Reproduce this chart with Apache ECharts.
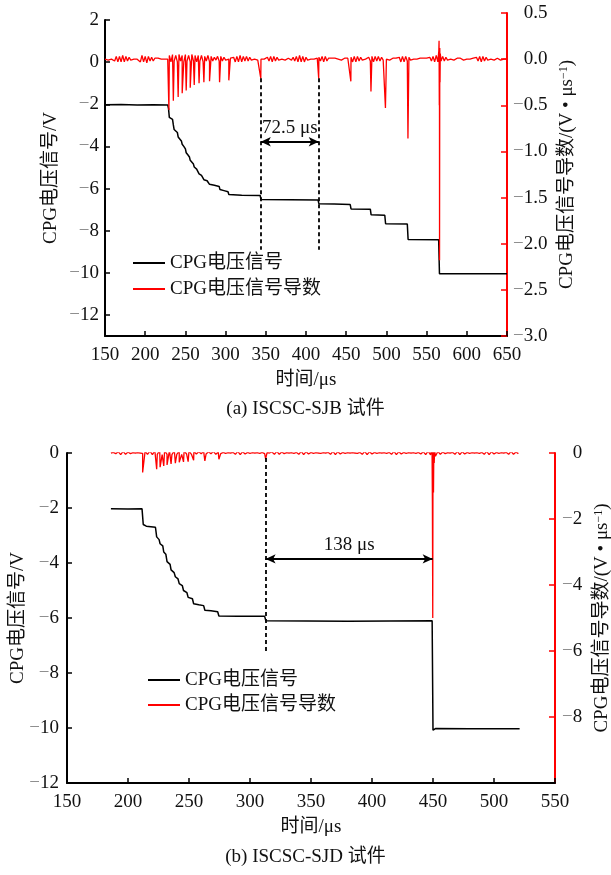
<!DOCTYPE html>
<html><head><meta charset="utf-8">
<script src="https://cdn.jsdelivr.net/npm/echarts@6/dist/echarts.min.js"></script>
<style>html,body{margin:0;padding:0;background:#fff;}#c{width:611px;height:875px;}</style>
</head><body><div id="c"></div>
<script>
// ---------------- DATA ----------------
// Panel (a) ISCSC-SJB : CPG voltage (V), [time µs, value]
const voltA = [
[150,-2.02],[170,-2.01],[190,-2.03],[210,-2.02],[228,-2.03],
[229,-2.2],[230,-2.62],[232,-2.66],[234,-2.72],[235,-2.98],[236,-3.2],[238,-3.26],[240,-3.34],[241,-3.55],[243,-3.62],[245,-3.74],[246,-3.9],[248,-4.0],[250,-4.12],[251,-4.3],[253,-4.4],[255,-4.5],[256,-4.66],[258,-4.75],[260,-4.84],[261,-4.98],[264,-5.08],[266,-5.15],[267,-5.3],[270,-5.38],[272,-5.45],[273,-5.58],[277,-5.63],[279,-5.68],[280,-5.8],[286,-5.84],[292,-5.9],[293,-6.05],[298,-6.1],[303,-6.15],[304,-6.28],[320,-6.32],[343,-6.33],
[344,-6.52],[380,-6.53],[415,-6.55],
[416,-6.72],[435,-6.73],[455,-6.76],
[456,-6.97],[480,-6.98],
[481,-7.25],[498,-7.27],
[499,-7.67],[526,-7.68],
[527,-8.42],[565,-8.43],
[566,-10.05],[600,-10.04],[650,-10.05]
];
// Panel (a) derivative baseline wiggle, sampled every 2 µs from 150 µs (V/µs)
const derivStartA = 150, derivStepA = 2;
const derivNoiseA = [
0.00,0.01,-0.01,0.01,0.00,0.02,-0.02,0.03,-0.03,0.03,
-0.03,0.04,-0.03,0.03,-0.02,0.02,-0.01,0.01,0.00,0.01,
0.00,0.02,-0.03,0.04,-0.03,0.03,-0.04,0.03,-0.02,0.02,
-0.02,0.01,0.00,0.01,-0.01,0.00,0.01,0.00,0.01,0.00,
0.04,-0.03,0.05,-0.02,0.04,-0.03,0.05,-0.02,0.04,-0.03,
0.05,-0.02,0.04,-0.03,0.05,-0.02,0.04,-0.03,0.04,-0.02,
0.04,-0.03,0.03,-0.02,0.04,-0.03,0.03,-0.02,0.02,-0.01,
0.03,-0.02,0.03,-0.02,0.02,-0.01,0.01,0.00,0.01,-0.01,
0.02,-0.03,0.03,-0.03,0.04,-0.03,0.03,-0.02,0.03,-0.02,
0.02,-0.01,0.01,0.00,0.01,-0.01,0.01,0.00,0.01,0.00,
0.01,0.02,-0.02,0.03,-0.03,0.03,-0.02,0.02,-0.01,0.01,
0.00,0.01,-0.01,0.00,0.01,0.00,-0.01,0.02,-0.02,0.03,
-0.03,0.04,-0.03,0.03,-0.03,0.02,-0.01,0.01,0.00,0.01,
0.00,-0.01,0.01,0.02,-0.02,0.03,-0.03,0.03,-0.02,0.01,
-0.01,0.01,0.00,0.01,-0.01,0.00,0.01,-0.01,0.00,0.01,
0.00,0.01,-0.01,0.02,-0.03,0.03,-0.03,0.03,-0.02,0.02,
-0.01,0.01,0.00,0.01,0.02,-0.02,0.03,-0.03,0.03,-0.02,
0.03,-0.02,0.02,-0.01,0.01,0.00,0.01,-0.01,0.00,0.01,
0.00,0.01,-0.01,0.02,-0.03,0.03,-0.03,0.03,-0.02,0.02,
-0.01,0.01,0.00,0.01,0.00,-0.01,0.01,0.00,0.01,0.00,
0.01,-0.01,0.02,-0.02,0.03,-0.03,0.04,-0.03,0.03,-0.02,
0.03,-0.02,0.02,-0.01,0.01,0.00,0.01,-0.01,0.00,0.01,
0.00,0.01,0.00,-0.01,0.01,0.00,0.01,0.00,-0.01,0.01,
0.00,0.02,-0.02,0.03,-0.03,0.03,-0.02,0.02,-0.01,0.01,
0.00,0.01,-0.01,0.00,0.01,0.00,-0.01,0.01,0.00,0.01,
0.00
];
const spikeTimeA = [229.5,235,241,246,251,256,261,267,273,280,292.5,304,343.8,415.8,455.8,480.8,498.8,526.8];
const spikeValA  = [-0.55,-0.45,-0.41,-0.37,-0.34,-0.31,-0.28,-0.26,-0.25,-0.24,-0.25,-0.23,-0.21,-0.21,-0.24,-0.35,-0.53,-0.86];
const bigSpikeA = [[565.2,0.09],[565.5,0.2],[565.8,-0.5],[566.1,-2.18],[566.4,0.12],[566.7,-0.25],[567.0,0.06]];

// Panel (b) ISCSC-SJD : CPG voltage (V)
const voltB = [
[186,-2.03],[200,-2.04],[211.5,-2.03],
[212.5,-2.6],[215,-2.66],[222.5,-2.7],
[223.5,-3.05],[225.5,-3.15],[226.3,-3.3],[228.5,-3.38],[229.3,-3.6],[231,-3.68],[232,-3.95],[234.5,-4.05],[235.3,-4.25],[237.8,-4.35],[238.8,-4.5],[241,-4.58],[242,-4.75],[244.5,-4.82],[245.5,-5.0],[248.3,-5.08],[249.3,-5.25],[252.8,-5.3],[253.8,-5.48],[258,-5.52],[262,-5.55],[263,-5.72],[268,-5.74],[273.5,-5.77],[274.5,-5.93],[290,-5.94],[312,-5.94],
[313,-6.1],[380,-6.12],[449.3,-6.1],
[450,-10.08],[452,-10.02],[480,-10.03],[521,-10.03]
];
const derivStartB = 186, derivStepB = 2;
const derivNoiseB = [
0.00,0.02,-0.02,0.04,-0.05,0.05,-0.04,0.03,-0.02,0.01,
0.00,0.01,0.00,-0.01,0.05,-0.04,0.06,-0.05,0.07,-0.04,
0.08,-0.05,0.07,-0.04,0.08,-0.05,0.07,-0.04,0.06,-0.04,
0.07,-0.03,0.06,-0.04,0.05,-0.03,0.04,-0.02,0.05,-0.03,
0.04,-0.02,0.05,-0.04,0.03,-0.02,0.02,-0.01,0.01,0.00,
0.02,-0.04,0.05,-0.05,0.04,-0.03,0.02,-0.01,0.01,0.00,
0.01,-0.01,0.02,-0.02,0.01,0.00,0.03,-0.04,0.05,-0.04,
0.03,-0.02,0.01,0.00,0.01,-0.01,0.02,-0.04,0.05,-0.05,
0.04,-0.03,0.02,-0.01,0.01,0.00,-0.01,0.01,0.00,0.02,
-0.04,0.05,-0.05,0.04,-0.03,0.02,-0.01,0.01,0.00,0.01,
0.00,-0.01,0.02,-0.04,0.05,-0.05,0.04,-0.03,0.02,-0.01,
0.01,0.00,0.01,-0.01,0.02,-0.04,0.05,-0.05,0.04,-0.03,
0.02,-0.01,0.01,0.00,0.01,-0.01,0.02,-0.03,0.04,-0.05,
0.06,-0.06,0.10,-0.10,0.05,-0.04,0.03,-0.02,0.01,0.00,
0.02,-0.04,0.05,-0.05,0.04,-0.03,0.02,-0.01,0.01,0.00,
0.01,-0.01,0.02,-0.04,0.05,-0.05,0.04,-0.03,0.02,-0.01,
0.01,0.00,0.02,-0.04,0.05,-0.04,0.03,-0.02
];
const spikeTimeB = [212,223.5,226.3,229.3,232,235.3,238.8,242,245.5,249.3,253.8,263,274.5,312.8];
const spikeValB  = [-0.59,-0.49,-0.43,-0.39,-0.36,-0.33,-0.31,-0.28,-0.27,-0.26,-0.22,-0.24,-0.19,-0.18];
const bigSpikeB = [[448.8,0.12],[449.2,0.25],[449.5,-1.5],[449.8,-5.0],[450.1,0.22],[450.4,-1.2],[450.7,0.18],[451.0,-0.3],[451.3,0.1]];

// Tick values
const leftTicksA  = [2,0,-2,-4,-6,-8,-10,-12];
const rightTicksB = [0,-2,-4,-6,-8];

// Annotations (data units, left axis)
const annotA = {t1:343.8, t2:415.8, dashTop:-0.76, dashBottom:-8.9, arrowY:-3.78, text:'72.5 μs'};
const annotB = {t1:312.8, t2:449.7, dashTop:-0.18, dashBottom:-7.2, arrowY:-3.85, text:'138 μs'};

const seriesNames = ['CPG电压信号','CPG电压信号导数'];

// ---------------- BUILD ----------------
function mergeDeriv(t0, dt, noise, sT, sV, extra){
  const pts = noise.map((v,i)=>[t0+i*dt, v]);
  sT.forEach((t,i)=>pts.push([t, sV[i]]));
  extra.forEach(p=>pts.push(p));
  pts.sort((a,b)=>a[0]-b[0]);
  return pts;
}
const derivA = mergeDeriv(derivStartA, derivStepA, derivNoiseA, spikeTimeA, spikeValA, bigSpikeA);
const derivB = mergeDeriv(derivStartB, derivStepB, derivNoiseB, spikeTimeB, spikeValB, bigSpikeB);

const FONT = "'Liberation Serif','Noto Sans CJK SC',serif";
const TXT = '#111';
const RED = '#ff0000';
const rich = {
  m:{color:'#8a8a8a', fontSize:19, fontFamily:FONT},
  n:{color:TXT, fontSize:19, fontFamily:FONT},
  h:{color:'rgba(0,0,0,0)', fontSize:19, fontFamily:FONT}
};
function fmtLeft(v){ return v<0 ? '{m|−}{n|'+Math.abs(v)+'}' : '{n|'+v+'}'; }
function fmtRight1(v){ return (v<0?'{m|−}':'{h|−}')+'{n|'+Math.abs(v).toFixed(1)+'}'; }
function fmtRight0(v){ return (v<0?'{m|−}':'{h|−}')+'{n|'+Math.abs(v)+'}'; }

const nameStyle = {fontSize:19, fontFamily:FONT, color:TXT};
const rightName = '{a|CPG电压信号导数/(V • μs}{s|−1}{a|)}';
const rightNameStyle = {rich:{a:{fontSize:19,fontFamily:FONT,color:TXT}, s:{fontSize:12,fontFamily:FONT,color:TXT,verticalAlign:'top'}}};

function xAxisCfg(grid, max){
  return {gridIndex:grid, type:'value', min:150, max:max, interval:50,
    axisLine:{show:true, onZero:false, lineStyle:{color:'#000', width:2}},
    axisTick:{show:true, inside:true, length:5, lineStyle:{color:'#000', width:1.5}},
    axisLabel:{margin:10, color:TXT, fontSize:19, fontFamily:FONT},
    splitLine:{show:false},
    name:'时间/μs', nameLocation:'middle', nameGap:35, nameTextStyle:nameStyle};
}
function annotLines(a){
  return [
    [{coord:[a.t1,a.dashTop], symbol:'none', lineStyle:{type:[4,3], width:1.8, color:'#000'}, label:{show:false}},
     {coord:[a.t1,a.dashBottom], symbol:'none'}],
    [{coord:[a.t2,a.dashTop], symbol:'none', lineStyle:{type:[4,3], width:1.8, color:'#000'}, label:{show:false}},
     {coord:[a.t2,a.dashBottom], symbol:'none'}],
    [{coord:[a.t1,a.arrowY], symbol:'arrow', symbolSize:[7,10], lineStyle:{type:'solid', width:2, color:'#000'},
      label:{show:true, position:'middle', formatter:a.text, fontSize:19, fontFamily:FONT, color:TXT, distance:4}},
     {coord:[a.t2,a.arrowY], symbol:'arrow', symbolSize:[7,10]}]
  ];
}
function annotLinesB(a){
  const l = annotLines(a);
  l.splice(1,1); // only one dashed line in panel (b)
  return l;
}

const chart = echarts.init(document.getElementById('c'), null, {renderer:'canvas'});
chart.setOption({
  backgroundColor:'#fff',
  animation:false,
  title:[
    {text:'(a) ISCSC-SJB 试件', left:'center', top:400, padding:0, textStyle:{fontSize:19, fontWeight:'normal', fontFamily:FONT, color:TXT}},
    {text:'(b) ISCSC-SJD 试件', left:'center', top:848, padding:0, textStyle:{fontSize:19, fontWeight:'normal', fontFamily:FONT, color:TXT}}
  ],
  legend:[
    {left:128, top:247, orient:'vertical', itemWidth:32, itemHeight:2, itemGap:4, icon:'rect', selectedMode:false,
     textStyle:{fontSize:19, fontFamily:FONT, color:TXT, lineHeight:22}, data:seriesNames},
    {left:143, top:664, orient:'vertical', itemWidth:32, itemHeight:2, itemGap:3, icon:'rect', selectedMode:false,
     textStyle:{fontSize:19, fontFamily:FONT, color:TXT, lineHeight:22}, data:seriesNames}
  ],
  grid:[
    {left:105, right:104, top:20, bottom:539, containLabel:false, outerBoundsMode:'none'},
    {left:105, right:104, top:13, bottom:539, containLabel:false, outerBoundsMode:'none'},
    {left:67, right:56, top:453, bottom:92, containLabel:false, outerBoundsMode:'none'}
  ],
  xAxis:[
    xAxisCfg(0,650),
    {gridIndex:1, type:'value', min:150, max:650, show:false},
    xAxisCfg(2,550)
  ],
  yAxis:[
    {gridIndex:0, type:'value', position:'left', min:-13, max:2,
     axisLine:{show:true, onZero:false, lineStyle:{color:'#000', width:2}},
     axisTick:{show:true, inside:true, length:5, customValues:leftTicksA, lineStyle:{color:'#000', width:1.5}},
     axisLabel:{margin:6, customValues:leftTicksA, formatter:fmtLeft, rich:rich},
     splitLine:{show:false},
     name:'CPG电压信号/V', nameLocation:'middle', nameGap:44, nameMoveOverlap:false, nameTextStyle:nameStyle},
    {gridIndex:1, type:'value', position:'right', min:-3, max:0.5, interval:0.5,
     axisLine:{show:true, onZero:false, lineStyle:{color:RED, width:2}},
     axisTick:{show:true, inside:true, length:6, lineStyle:{color:RED, width:1.5}},
     axisLabel:{margin:6, formatter:fmtRight1, rich:rich},
     splitLine:{show:false},
     name:rightName, nameLocation:'middle', nameGap:51, nameMoveOverlap:false, nameTextStyle:rightNameStyle},
    {gridIndex:2, type:'value', position:'left', min:-12, max:0, interval:2,
     axisLine:{show:true, onZero:false, lineStyle:{color:'#000', width:2}},
     axisTick:{show:true, inside:true, length:5, lineStyle:{color:'#000', width:1.5}},
     axisLabel:{margin:8, formatter:fmtLeft, rich:rich},
     splitLine:{show:false},
     name:'CPG电压信号/V', nameLocation:'middle', nameGap:39, nameMoveOverlap:false, nameTextStyle:nameStyle},
    {gridIndex:2, type:'value', position:'right', min:-10, max:0,
     axisLine:{show:true, onZero:false, lineStyle:{color:RED, width:2}},
     axisTick:{show:true, inside:true, length:6, customValues:rightTicksB, lineStyle:{color:RED, width:1.5}},
     axisLabel:{margin:7, customValues:rightTicksB, formatter:fmtRight0, rich:rich},
     splitLine:{show:false},
     name:rightName, nameLocation:'middle', nameGap:38, nameMoveOverlap:false, nameTextStyle:rightNameStyle}
  ],
  series:[
    {name:seriesNames[0], type:'line', xAxisIndex:0, yAxisIndex:0, data:voltA, showSymbol:false, symbol:'none',
     color:'#000', lineStyle:{color:'#000', width:1.5},
     markLine:{silent:true, animation:false, symbol:['none','none'], label:{show:false}, data:annotLines(annotA)}},
    {name:seriesNames[1], type:'line', xAxisIndex:1, yAxisIndex:1, data:derivA, showSymbol:false, symbol:'none',
     color:RED, lineStyle:{color:RED, width:1.3}},
    {name:seriesNames[0], type:'line', xAxisIndex:2, yAxisIndex:2, data:voltB, showSymbol:false, symbol:'none',
     color:'#000', lineStyle:{color:'#000', width:1.5},
     markLine:{silent:true, animation:false, symbol:['none','none'], label:{show:false}, data:annotLinesB(annotB)}},
    {name:seriesNames[1], type:'line', xAxisIndex:2, yAxisIndex:3, data:derivB, showSymbol:false, symbol:'none',
     color:RED, lineStyle:{color:RED, width:1.3}}
  ]
});
</script></body></html>
